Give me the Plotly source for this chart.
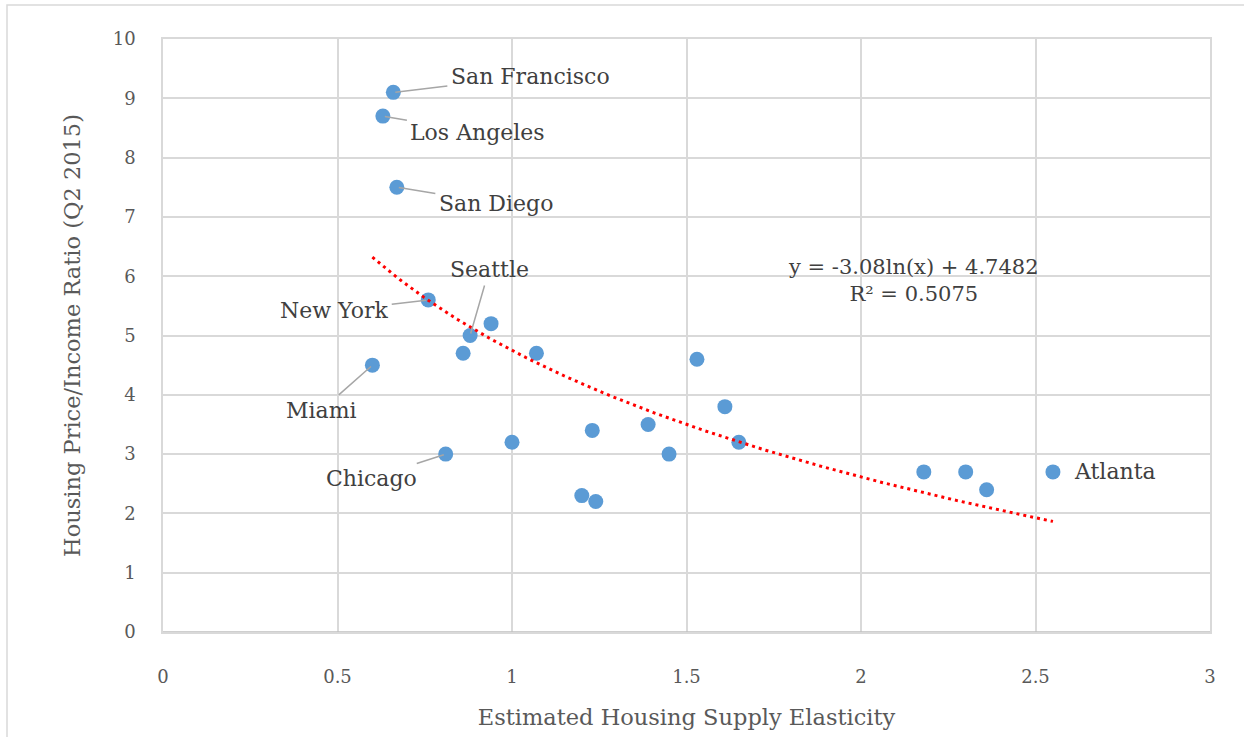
import numpy as np
import plotly.graph_objects as go

# ---- data ----
elasticity = [0.66, 0.63, 0.67, 0.76, 0.88, 0.94, 0.86, 0.60, 1.07, 0.81, 1.00,
              1.23, 1.39, 1.45, 1.20, 1.24, 1.53, 1.61, 1.65, 2.18, 2.30, 2.36, 2.55]
price_income = [9.1, 8.7, 7.5, 5.6, 5.0, 5.2, 4.7, 4.5, 4.7, 3.0, 3.2,
                3.4, 3.5, 3.0, 2.3, 2.2, 4.6, 3.8, 3.2, 2.7, 2.7, 2.4, 2.7]
city_names = ["San Francisco", "Los Angeles", "San Diego", "New York", "Seattle", "", "",
              "Miami", "", "Chicago", "", "", "", "", "", "", "", "", "", "", "", "", "Atlanta"]

# log trendline coefficients (as displayed)
trend_a = -3.08
trend_b = 4.7482
trend_r2 = 0.5075

x_ticks = [0, 0.5, 1, 1.5, 2, 2.5, 3]
y_ticks = list(range(0, 11))

# label offsets (pixels) for the leader-lined labels
label_offsets = {
    "San Francisco": (137, -16),
    "Los Angeles": (95, 16),
    "San Diego": (99, 16),
    "New York": (-94, 11),
    "Seattle": (19, -66),
    "Miami": (-51, 45),
    "Chicago": (-74, 24),
}

FONT = "DejaVu Serif"
TXT = "#595959"
LBL = "#404040"
GRID = "#d9d9d9"

x_arr = np.array(elasticity)
trend_x = np.linspace(x_arr.min(), x_arr.max(), 200)
trend_y = trend_a * np.log(trend_x) + trend_b

fig = go.Figure()
fig.add_trace(go.Scatter(
    x=elasticity, y=price_income, mode="markers",
    marker=dict(size=15, color="#5b9bd5", line=dict(width=0)),
    showlegend=False, hoverinfo="skip"))
fig.add_trace(go.Scatter(
    x=trend_x, y=trend_y, mode="lines",
    line=dict(color="#ff0000", width=3, dash="3px,4px"),
    showlegend=False, hoverinfo="skip"))

annotations = []
for xv, yv, name in zip(elasticity, price_income, city_names):
    if not name:
        continue
    if name in label_offsets:
        ax, ay = label_offsets[name]
        annotations.append(dict(
            x=xv, y=yv, xref="x", yref="y", text=name,
            showarrow=True, arrowhead=0, arrowwidth=1.5, arrowcolor="#a6a6a6",
            ax=ax, ay=ay, standoff=2, startstandoff=2,
            font=dict(family=FONT, size=22, color=LBL)))
    else:
        annotations.append(dict(
            x=xv, y=yv, xref="x", yref="y", text=name, showarrow=False,
            xanchor="left", xshift=19,
            font=dict(family=FONT, size=22, color=LBL)))

annotations.append(dict(
    x=2.15, y=5.92, xref="x", yref="y",
    text=f"y = {trend_a}ln(x) + {trend_b}<br>R² = {trend_r2}",
    showarrow=False, align="center",
    font=dict(family=FONT, size=21, color=LBL)))

fig.update_layout(
    width=1244, height=737,
    margin=dict(l=163, r=34, t=39, b=105),
    paper_bgcolor="white", plot_bgcolor="white",
    font=dict(family=FONT, color=TXT),
    annotations=annotations,
    shapes=[dict(type="rect", xref="paper", yref="paper",
                 x0=-156 / 1047, x1=1.5,
                 y0=-1.0, y1=1 + 34 / 593,
                 line=dict(color=GRID, width=1.5), fillcolor="rgba(0,0,0,0)", layer="below")],
    xaxis=dict(range=[0, 3], tickvals=x_ticks, ticktext=[str(v) for v in x_ticks],
               showgrid=True, gridcolor=GRID, gridwidth=1.5,
               zeroline=False, showline=True, linecolor=GRID, linewidth=1.5, mirror=True,
               ticks="", ticklabelstandoff=28,
               tickfont=dict(family=FONT, size=18, color=TXT),
               title=dict(text="Estimated Housing Supply Elasticity", standoff=23,
                          font=dict(family=FONT, size=22.5, color=TXT))),
    yaxis=dict(range=[0, 10], tickvals=y_ticks,
               showgrid=True, gridcolor=GRID, gridwidth=1.5,
               zeroline=False, showline=True, linecolor=GRID, linewidth=1.5, mirror=True,
               ticks="", ticklabelstandoff=22,
               tickfont=dict(family=FONT, size=18, color=TXT),
               title=dict(text="Housing Price/Income Ratio (Q2 2015)", standoff=26,
                          font=dict(family=FONT, size=22.5, color=TXT))),
)
# darker bottom axis line
fig.add_shape(type="line", xref="paper", yref="y", x0=0, x1=1, y0=0, y1=0,
              line=dict(color="#bfbfbf", width=1.5))

fig.write_html("out.html", config={"displayModeBar": False},
               post_script="document.body.style.margin='0';")
